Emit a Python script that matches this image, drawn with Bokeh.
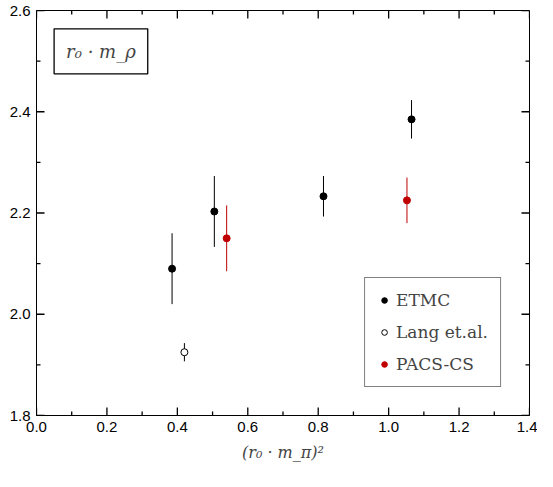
from bokeh.plotting import figure
from bokeh.models import Range1d, Label, ColumnDataSource, Legend, LegendItem, FixedTicker
from bokeh.embed import file_html
from bokeh.resources import INLINE

etmc_x = [0.385, 0.505, 0.815, 1.065]
etmc_y = [2.090, 2.203, 2.233, 2.385]
etmc_xerr = [0.005, 0.005, 0.008, 0.01]
etmc_yerr = [0.070, 0.070, 0.040, 0.038]

lang_x = [0.42]
lang_y = [1.925]
lang_xerr = [0.005]
lang_yerr = [0.018]

pacs_x = [0.540, 1.052]
pacs_y = [2.150, 2.225]
pacs_xerr = [0.006, 0.008]
pacs_yerr = [0.065, 0.045]

xticks = [0.0, 0.2, 0.4, 0.6, 0.8, 1.0, 1.2, 1.4]
yticks = [1.8, 2.0, 2.2, 2.4, 2.6]
xminor = [round(0.1 + i * 0.2, 2) for i in range(7)]
yminor = [round(1.9 + i * 0.2, 2) for i in range(4)]

XLO, XHI, YLO, YHI = 0.0, 1.4, 1.8, 2.6

p = figure(width=537, height=471, output_backend="svg", toolbar_location=None,
           x_range=Range1d(XLO, XHI), y_range=Range1d(YLO, YHI),
           min_border_left=36, min_border_right=8, min_border_top=10, min_border_bottom=56)
p.grid.visible = False
p.outline_line_color = "black"

p.xaxis.ticker = FixedTicker(ticks=xticks)
p.yaxis.ticker = FixedTicker(ticks=yticks)
for ax in [p.xaxis[0], p.yaxis[0]]:
    ax.major_tick_in = 0
    ax.major_tick_out = 0
    ax.minor_tick_in = 0
    ax.minor_tick_out = 0
    ax.axis_line_color = "black"
    ax.major_label_text_font = "Liberation Sans"
    ax.major_label_text_font_size = "15px"
    ax.major_label_text_color = "black"
    ax.major_label_standoff = 6
p.xaxis.major_label_overrides = {t: f"{t:.1f}" for t in xticks}
p.yaxis.major_label_overrides = {t: f"{t:.1f}" for t in yticks}
p.xaxis.axis_label = "(r₀ · m_π)²"
p.xaxis.axis_label_text_font = "DejaVu Serif"
p.xaxis.axis_label_text_font_style = "italic"
p.xaxis.axis_label_text_font_size = "16px"
p.xaxis.axis_label_standoff = 8

# inward ticks on all four sides (length as a fraction of the range)
dy = (YHI - YLO) / 408
dx = (XHI - XLO) / 493
for ticks, n in [(xticks, 8), (xminor, 4)]:
    p.segment(x0=ticks, y0=[YLO] * len(ticks), x1=ticks, y1=[YLO + n * dy] * len(ticks), color="black", line_width=1.3)
    p.segment(x0=ticks, y0=[YHI] * len(ticks), x1=ticks, y1=[YHI - n * dy] * len(ticks), color="black", line_width=1.3)
for ticks, n in [(yticks, 8), (yminor, 4)]:
    p.segment(x0=[XLO] * len(ticks), y0=ticks, x1=[XLO + n * dx] * len(ticks), y1=ticks, color="black", line_width=1.3)
    p.segment(x0=[XHI] * len(ticks), y0=ticks, x1=[XHI - n * dx] * len(ticks), y1=ticks, color="black", line_width=1.3)

def series(xs, ys, xe, ye, color, fill):
    src = ColumnDataSource(dict(x=xs, y=ys,
                                yl=[a - b for a, b in zip(ys, ye)], yu=[a + b for a, b in zip(ys, ye)],
                                xl=[a - b for a, b in zip(xs, xe)], xu=[a + b for a, b in zip(xs, xe)]))
    p.segment(x0="x", y0="yl", x1="x", y1="yu", source=src, color=color, line_width=1)
    p.segment(x0="xl", y0="y", x1="xu", y1="y", source=src, color=color, line_width=1)
    return p.scatter("x", "y", source=src, size=7, line_color=color, fill_color=fill)

r1 = series(etmc_x, etmc_y, etmc_xerr, etmc_yerr, "black", "black")
r2 = series(lang_x, lang_y, lang_xerr, lang_yerr, "black", "white")
r3 = series(pacs_x, pacs_y, pacs_xerr, pacs_yerr, "#c00000", "#c00000")

legend = Legend(items=[LegendItem(label="ETMC", renderers=[r1]),
                       LegendItem(label="Lang et.al.", renderers=[r2]),
                       LegendItem(label="PACS-CS", renderers=[r3])],
                location="bottom_right", border_line_color="black", border_line_width=1.3,
                label_text_font="DejaVu Serif", label_text_font_size="17px",
                glyph_width=14, spacing=12, padding=12, margin=28,
                background_fill_alpha=1)
p.add_layout(legend)

p.add_layout(Label(x=0.05, y=2.475, text="r₀ · m_ρ", text_font="DejaVu Serif",
                   text_font_style="italic", text_font_size="18px",
                   border_line_color="black", border_line_width=1.3, padding=12))

open("out.html", "w").write(file_html(p, INLINE))
